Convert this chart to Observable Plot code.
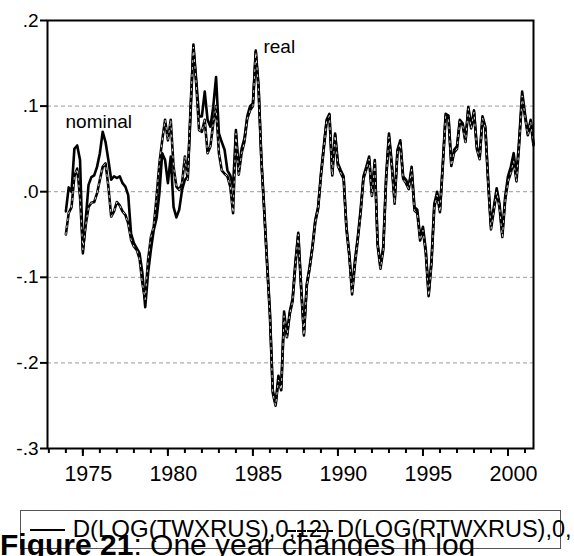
<!DOCTYPE html>
<html>
<head>
<meta charset="utf-8">
<script src="https://cdn.jsdelivr.net/npm/d3@7"></script>
<script src="https://cdn.jsdelivr.net/npm/@observablehq/plot@0.6"></script>
<style>
  html, body { margin: 0; padding: 0; background: #fff; }
  #wrap { position: relative; width: 574px; height: 556px; overflow: hidden; font-family: "Liberation Sans", Arial, sans-serif; }
  #below { position: absolute; left: 0; top: 490px; }
</style>
</head>
<body>
<div id="wrap">
  <div id="chart"></div>
  <div id="below"></div>
</div>
<script>
// Observations every two months, starting January 1974
const startYear = 1974;
const stepYears = 1 / 6;

// D(LOG(RTWXRUS),0,12): real, solid
const real = [
  -0.023, 0.005, 0.0, 0.05, 0.054, 0.037,
  -0.072, -0.033, 0.008, 0.017, 0.019, 0.029,
  0.045, 0.07, 0.058, 0.037, 0.014, 0.018,
  0.016, 0.018, 0.01, 0.006, -0.004, -0.049,
  -0.06, -0.066, -0.072, -0.095, -0.135, -0.095,
  -0.068, -0.045, -0.031, -0.002, 0.045, 0.037,
  0.01, 0.041, -0.018, -0.03, -0.021, 0.002,
  0.014, 0.018, 0.09, 0.172, 0.13, 0.088,
  0.088, 0.117, 0.084, 0.076, 0.099, 0.134,
  0.068, 0.058, 0.049, 0.025, 0.019, 0.006,
  0.072, 0.025, 0.05, 0.062, 0.088, 0.1,
  0.103, 0.165, 0.123, 0.037, -0.021, -0.082,
  -0.14, -0.232, -0.248, -0.215, -0.228, -0.14,
  -0.168, -0.14, -0.125, -0.082, -0.048, -0.11,
  -0.165, -0.108, -0.088, -0.064, -0.033, -0.018,
  0.021, 0.053, 0.084, 0.091, 0.021, 0.068,
  0.033, 0.025, 0.018, -0.041, -0.072, -0.115,
  -0.08, -0.053, -0.021, 0.018, 0.029, 0.041,
  -0.002, 0.037, -0.06, -0.086, -0.064, 0.018,
  0.068, 0.033, -0.01, 0.049, 0.06, 0.018,
  0.014, 0.006, 0.029, -0.018, -0.021, -0.053,
  -0.041, -0.068, -0.119, -0.08, -0.014, 0.0,
  -0.021, 0.033, 0.091, 0.089, 0.033, 0.049,
  0.053, 0.084, 0.08, 0.06, 0.099, 0.076,
  0.095, 0.053, 0.041, 0.088, 0.076, 0.014,
  -0.04, -0.018, 0.004, -0.014, -0.049, -0.006,
  0.018, 0.029, 0.045, 0.018, 0.064, 0.117,
  0.091, 0.068, 0.084, 0.056
];

// D(LOG(TWXRUS),0,12): nominal, dashed
const nominal = [
  -0.05, -0.025, -0.018, 0.018, 0.027, -0.006,
  -0.068, -0.039, -0.018, -0.013, -0.012, -0.002,
  0.014, 0.029, 0.033, 0.006, -0.029, -0.023,
  -0.012, -0.016, -0.023, -0.027, -0.037, -0.056,
  -0.064, -0.068, -0.078, -0.107, -0.126, -0.08,
  -0.053, -0.041, -0.006, 0.033, 0.06, 0.084,
  0.06, 0.084, 0.029, 0.006, 0.002, 0.01,
  0.041, 0.014, 0.099, 0.169, 0.126, 0.072,
  0.07, 0.084, 0.045, 0.053, 0.08, 0.1,
  0.045, 0.025, 0.021, 0.018, 0.006, -0.025,
  0.068, 0.02, 0.045, 0.058, 0.085, 0.095,
  0.1, 0.163, 0.12, 0.035, -0.024, -0.085,
  -0.145, -0.235, -0.25, -0.22, -0.232, -0.145,
  -0.17, -0.143, -0.128, -0.085, -0.05, -0.112,
  -0.168, -0.11, -0.09, -0.066, -0.036, -0.02,
  0.018, 0.05, 0.082, 0.089, 0.019, 0.066,
  0.03, 0.022, 0.015, -0.044, -0.075, -0.12,
  -0.085, -0.056, -0.025, 0.015, 0.026, 0.038,
  -0.005, 0.034, -0.063, -0.09, -0.068, 0.014,
  0.064, 0.03, -0.014, 0.046, 0.057, 0.015,
  0.01, 0.003, 0.026, -0.022, -0.025, -0.057,
  -0.045, -0.072, -0.122, -0.084, -0.018, -0.004,
  -0.024, 0.03, 0.088, 0.086, 0.03, 0.046,
  0.05, 0.082, 0.078, 0.058, 0.097, 0.074,
  0.093, 0.05, 0.038, 0.086, 0.074, 0.01,
  -0.044, -0.022, 0.0, -0.018, -0.053, -0.01,
  0.012, 0.022, 0.036, 0.012, 0.058, 0.112,
  0.088, 0.066, 0.082, 0.054
];

const yTicks = [0.2, 0.1, 0.0, -0.1, -0.2, -0.3];
const gridValues = [0.1, 0.0, -0.1, -0.2];
const yearTicks = d3.range(1973, 2002);
const yearLabels = [1975, 1980, 1985, 1990, 1995, 2000];
const seriesLabels = [
  {text: "nominal", date: 1973.98, value: 0.082},
  {text: "real", date: 1985.62, value: 0.1697}
];
const legendItems = ["D(LOG(TWXRUS),0,12)", "D(LOG(RTWXRUS),0,"];
const captionBold = "Figure 21";
const captionRest = ": One year changes in log";

const xDomain = [1972.92, 2001.5];
const yDomain = [-0.3, 0.2];
const rows = real.map((r, i) => ({date: startYear + i * stepYears, real: r, nominal: nominal[i]}));
const fmtY = d => (d < 0 ? "-" : "") + "." + Math.round(Math.abs(d) * 10);
const yLabelRows = yTicks.map(v => ({x: xDomain[0], y: v, text: fmtY(v)}));
const xLabelRows = yearLabels.map(v => ({x: v + 0.32, y: yDomain[0], text: String(v)}));
const font = "Liberation Sans, Arial, sans-serif";

const chart = Plot.plot({
  width: 574,
  height: 490,
  marginLeft: 47,
  marginRight: 41,
  marginTop: 20,
  marginBottom: 42,
  style: {fontFamily: font, background: "white", overflow: "visible"},
  x: {domain: xDomain, axis: null},
  y: {domain: yDomain, axis: null},
  marks: [
    Plot.ruleY(gridValues, {stroke: "#9a9a9a", strokeWidth: 1, strokeDasharray: "4,3"}),
    Plot.lineY(rows, {x: "date", y: "real", stroke: "black", strokeWidth: 2.6}),
    Plot.lineY(rows, {x: "date", y: "nominal", stroke: "black", strokeWidth: 2.6}),
    Plot.lineY(rows, {x: "date", y: "nominal", stroke: "white", strokeWidth: 0.8, strokeDasharray: "2,5"}),
    Plot.frame({stroke: "black", strokeWidth: 2}),
    Plot.axisY(yTicks, {tickSize: 7, tickFormat: () => "", strokeWidth: 2, label: null}),
    Plot.axisX(yearTicks, {tickSize: 5, tickFormat: () => "", strokeWidth: 2, label: null}),
    Plot.axisX(yearLabels, {tickSize: 8, tickFormat: () => "", strokeWidth: 2, label: null}),
    Plot.text(yLabelRows, {x: "x", y: "y", text: "text", textAnchor: "end", lineAnchor: "middle", dx: -9, fontSize: 19, fill: "black"}),
    Plot.text(xLabelRows, {x: "x", y: "y", text: "text", textAnchor: "middle", lineAnchor: "top", dy: 17, fontSize: 21.5, fill: "black"}),
    Plot.text(seriesLabels, {x: "date", y: "value", text: "text", textAnchor: "start", lineAnchor: "middle", fontSize: 19, fill: "black"})
  ]
});
document.getElementById("chart").appendChild(chart);

// Legend and caption below the chart
const below = d3.select("#below").append("svg")
  .attr("width", 574).attr("height", 66)
  .style("font-family", font);
below.append("rect")
  .attr("x", 20.5).attr("y", 20.5).attr("width", 540).attr("height", 38)
  .attr("fill", "none").attr("stroke", "#555").attr("stroke-width", 1);
below.append("line").attr("x1", 30).attr("x2", 65).attr("y1", 40).attr("y2", 40)
  .attr("stroke", "black").attr("stroke-width", 2);
below.append("text").attr("x", 72.7).attr("y", 47).attr("font-size", 24).attr("fill", "black")
  .text(legendItems[0]);
below.append("line").attr("x1", 287).attr("x2", 333).attr("y1", 41).attr("y2", 41)
  .attr("stroke", "black").attr("stroke-width", 2).attr("stroke-dasharray", "9,1");
below.append("text").attr("x", 337).attr("y", 47).attr("font-size", 23.5).attr("fill", "black")
  .text(legendItems[1]);
const cap = below.append("text").attr("x", 0).attr("y", 64.5).attr("font-size", 30).attr("fill", "black");
cap.append("tspan").attr("font-weight", "bold").text(captionBold);
cap.append("tspan").text(captionRest);
</script>
</body>
</html>
